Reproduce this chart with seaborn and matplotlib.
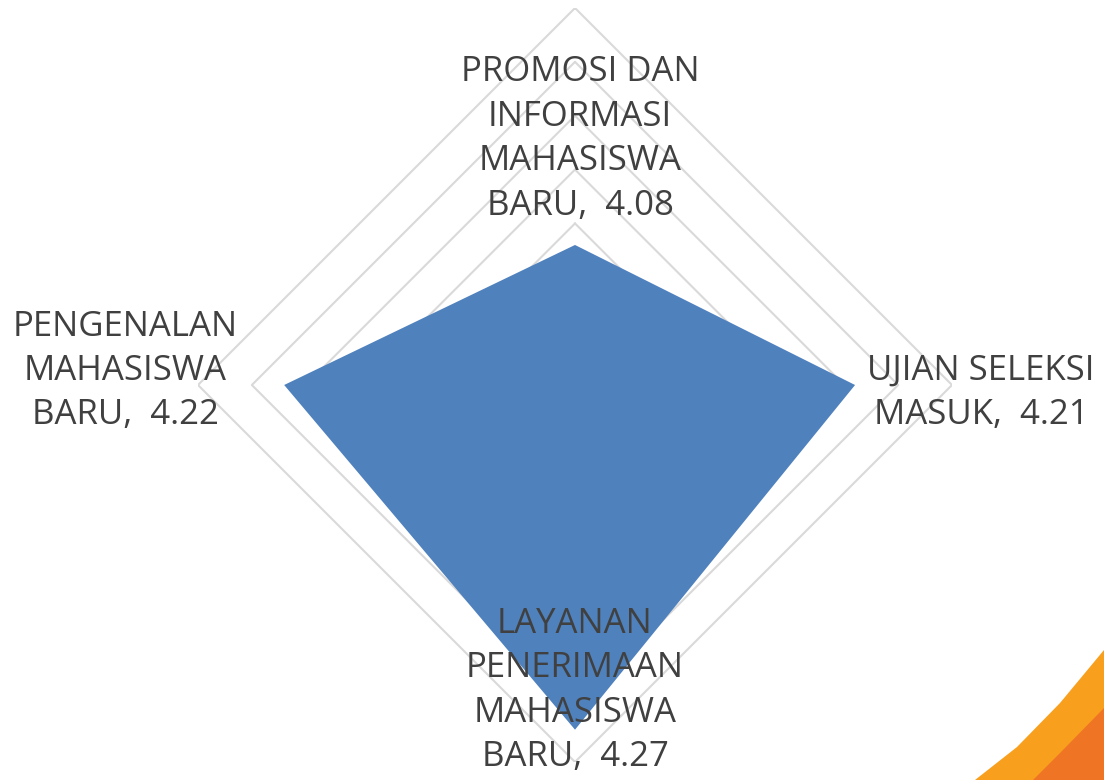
import numpy as np
import matplotlib
matplotlib.use("Agg")
import matplotlib.pyplot as plt
import seaborn as sns
from matplotlib.patches import Polygon

# --- data ---
kategori = ["PROMOSI DAN\nINFORMASI\nMAHASISWA\nBARU", "UJIAN SELEKSI\nMASUK",
            "LAYANAN\nPENERIMAAN\nMAHASISWA\nBARU", "PENGENALAN\nMAHASISWA\nBARU"]
nilai = [4.08, 4.21, 4.27, 4.22]
skala_min = 3.95
skala_max = 4.30
langkah = 0.05
# label offsets (pixels) from each point
geser_label = [(5, 106), (126, -8), (0, 39), (-159, 14)]

sns.set_theme(style="white")
plt.rcParams['font.family'] = ['Open Sans', 'DejaVu Sans']

biru = "#4F81BD"
abu_grid = "#D9D9D9"
teks = "#404040"

fig = plt.figure(figsize=(11.04, 7.80), dpi=100)
ax = fig.add_axes([198 / 1104, 18 / 780, 754 / 1104, 754 / 780], projection="polar")
ax.set_theta_zero_location("N")
ax.set_theta_direction(-1)

sudut = np.linspace(0, 2 * np.pi, len(nilai), endpoint=False)
sudut_tutup = np.append(sudut, sudut[0])

# diamond grid rings
for r in np.arange(skala_min + langkah, skala_max + langkah / 2, langkah):
    ax.plot(sudut_tutup, [r] * len(sudut_tutup), color=abu_grid, lw=1.5, zorder=1)

nilai_tutup = nilai + nilai[:1]
ax.fill(sudut_tutup, nilai_tutup, color=biru, zorder=2, lw=0)

ax.set_ylim(skala_min, skala_max)
ax.grid(False)
ax.spines["polar"].set_visible(False)
ax.set_xticks([])
ax.set_yticks([])
ax.patch.set_alpha(0)

for s, v, k, (dx, dy) in zip(sudut, nilai, kategori, geser_label):
    ax.annotate(f"{k},  {v:.2f}", xy=(s, v), xytext=(dx, dy), textcoords="offset pixels",
                ha="center", va="center", multialignment="center",
                fontsize=25, color=teks, linespacing=1.4, zorder=5,
                annotation_clip=False)

# orange slide decoration in the lower right corner
terang = [(975, 780), (1017, 747), (1060, 703), (1104, 650), (1104, 780)]
gelap = [(1033, 780), (1060, 753), (1104, 708), (1104, 780)]
for pts, warna in [(terang, "#F8A01E"), (gelap, "#EF7524")]:
    fig.add_artist(Polygon([(x / 1104, 1 - y / 780) for x, y in pts], closed=True,
                           transform=fig.transFigure, color=warna, lw=0))

fig.savefig("out.png", dpi=100, facecolor="white")
